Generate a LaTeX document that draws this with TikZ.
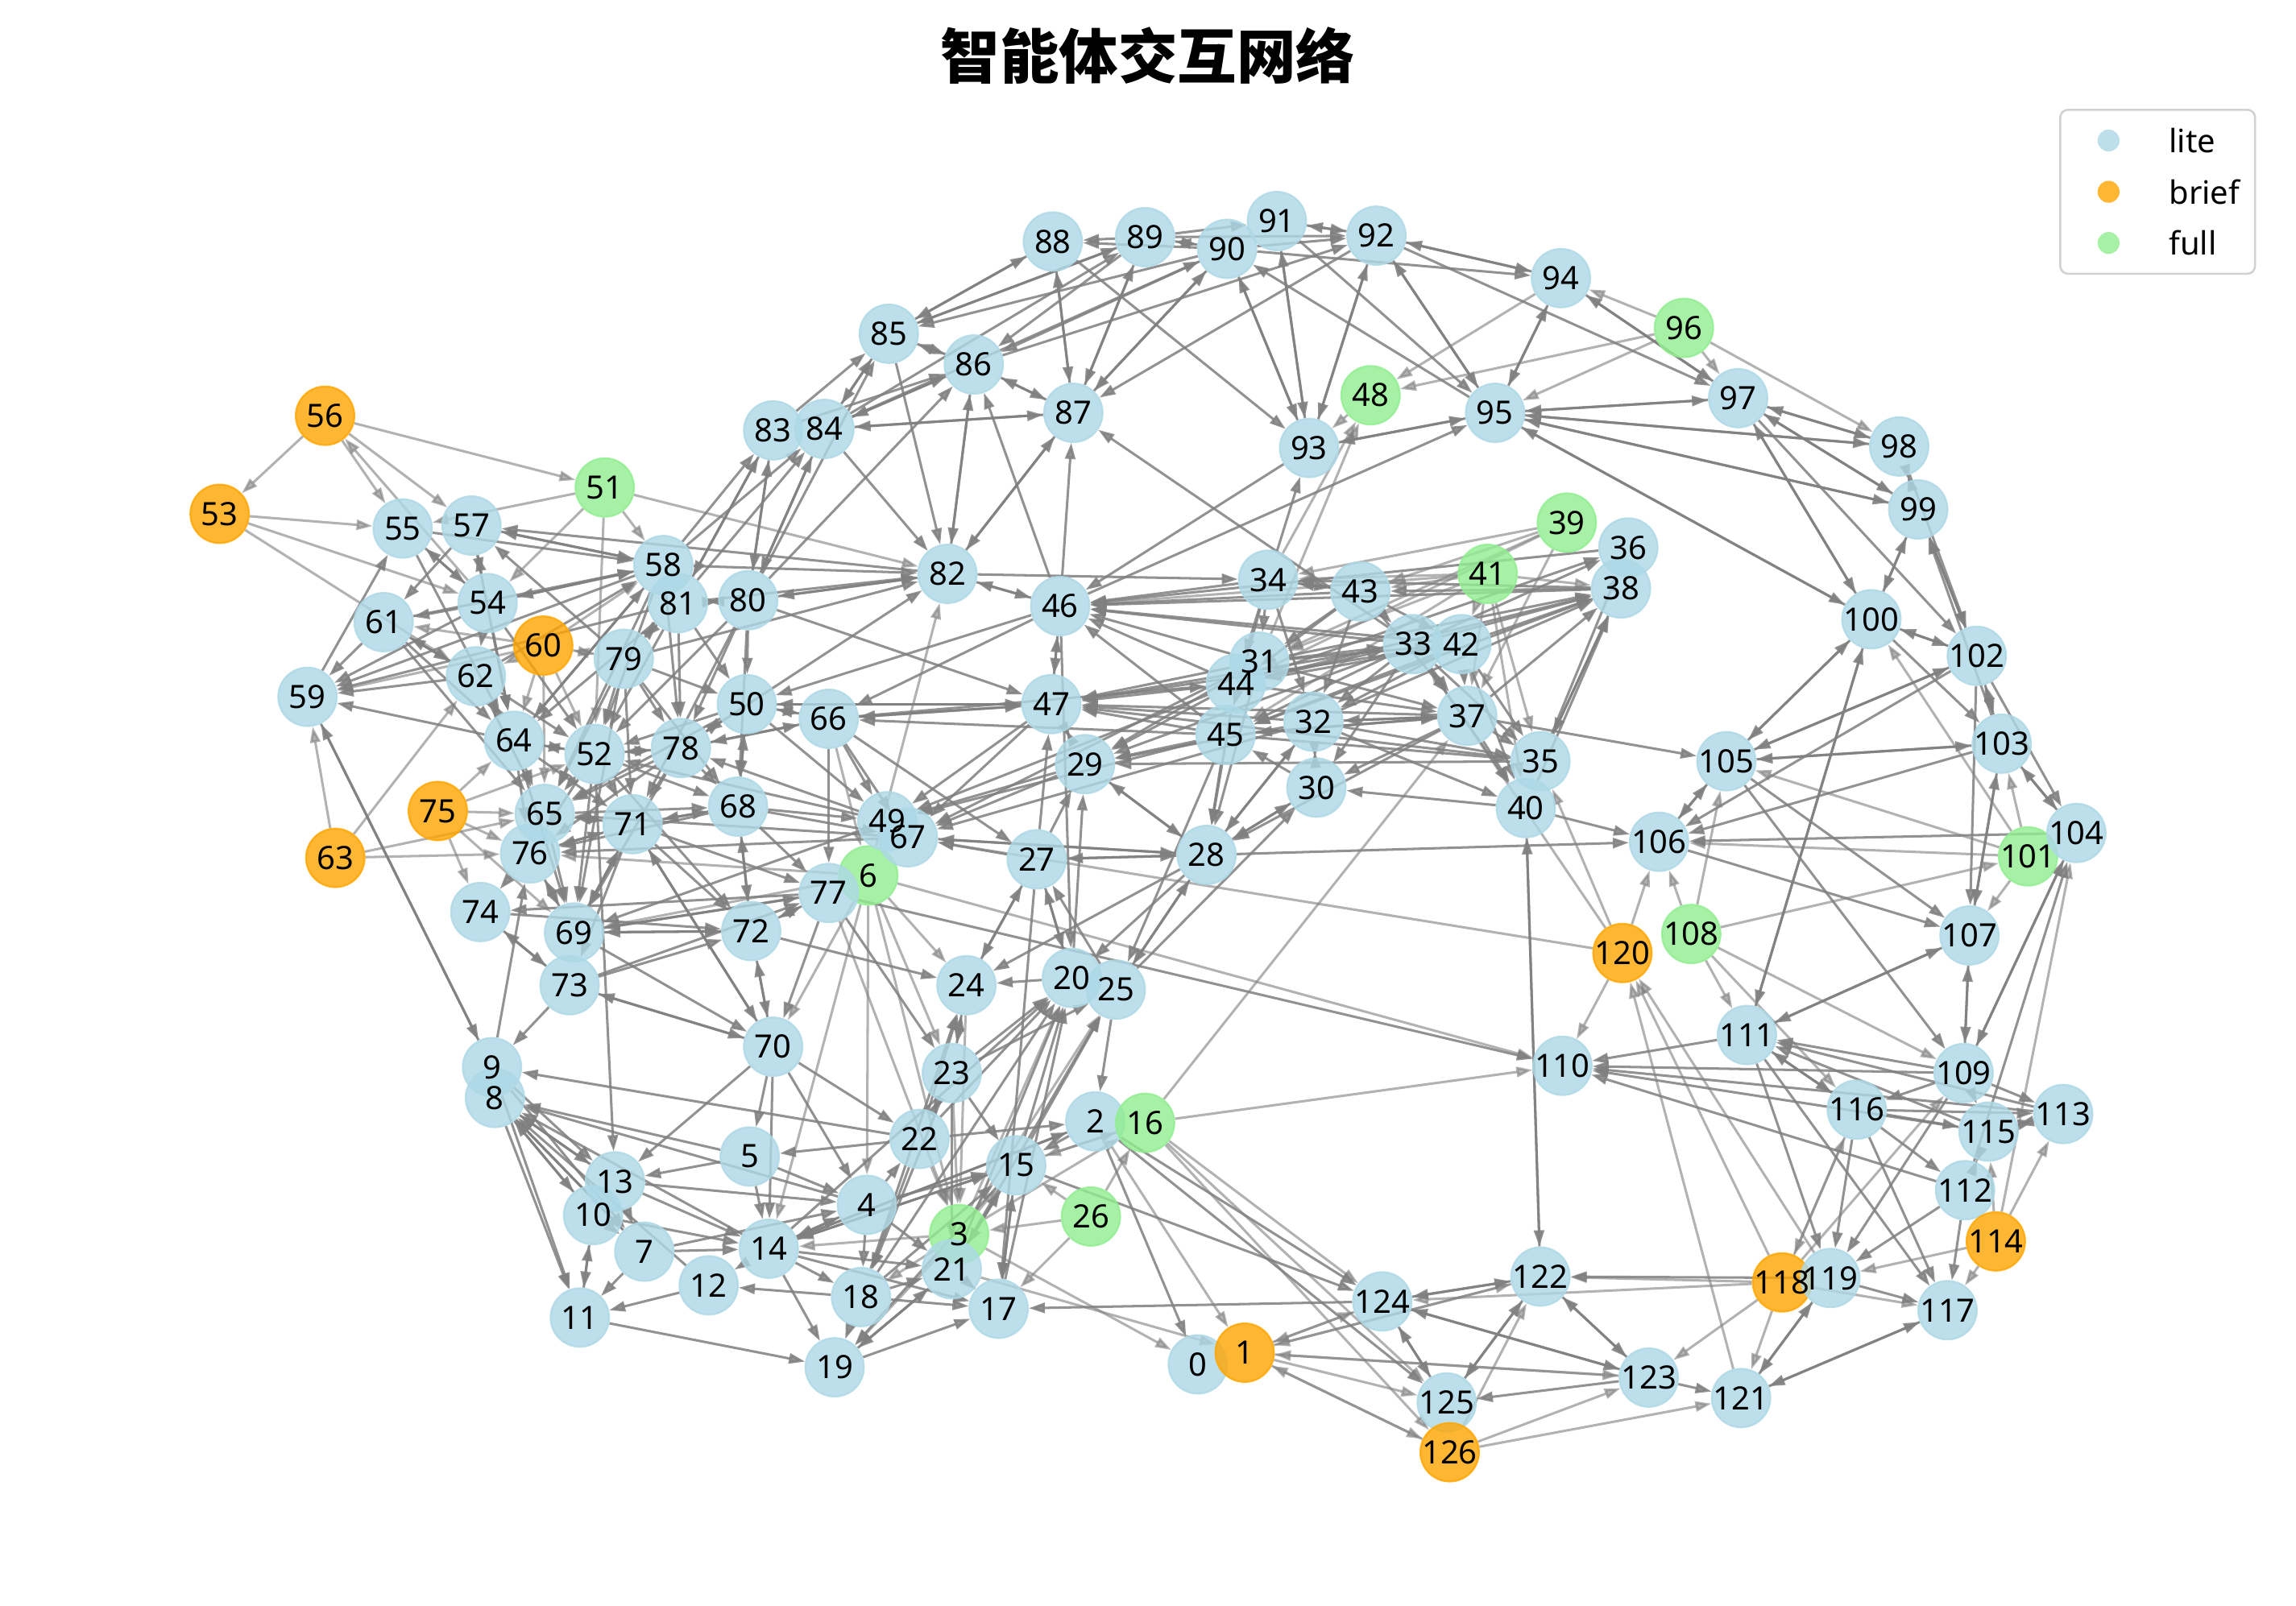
\documentclass[tikz,border=0pt]{standalone}
\usepackage{fontspec}
\setmainfont{Noto Sans}
\newfontfamily\cjkfont{Noto Sans CJK SC}
\usetikzlibrary{arrows.meta,backgrounds}
\pgfdeclarelayer{bottom}
\pgfsetlayers{bottom,background,main}
\definecolor{litec}{RGB}{173,216,230}
\definecolor{briefc}{RGB}{255,165,0}
\definecolor{fullc}{RGB}{144,238,144}
\definecolor{edgec}{RGB}{128,128,128}
\def\nodelist{0/818/932/lite,1/850/924/brief,2/748/766/lite,3/655/843/full,4/592/823/lite,5/512/790/lite,6/593/598/full,7/440/855/lite,8/338/750/lite,9/336/729/lite,10/405/830/lite,11/396/900/lite,12/484/878/lite,13/420/807/lite,14/525/853/lite,15/694/796/lite,16/782/767/full,17/682/894/lite,18/588/886/lite,19/570/934/lite,20/732/668/lite,21/650/867/lite,22/628/778/lite,23/650/733/lite,24/660/673/lite,25/762/676/lite,26/745/831/full,27/708/587/lite,28/824/584/lite,29/741/522/lite,30/899/538/lite,31/860/452/lite,32/897/493/lite,33/965/440/lite,34/866/396/lite,35/1052/520/lite,36/1112/374/lite,37/1002/489/lite,38/1107/402/lite,39/1070/357/full,40/1042/552/lite,41/1016/392/full,42/998/440/lite,43/929/404/lite,44/844/467/lite,45/837/502/lite,46/724/414/lite,47/718/481/lite,48/936/270/full,49/606/561/lite,50/510/481/lite,51/413/333/full,52/406/515/lite,53/150/351/brief,54/333/412/lite,55/275/361/lite,56/222/284/brief,57/322/359/lite,58/453/386/lite,59/210/476/lite,60/371/441/brief,61/262/425/lite,62/325/462/lite,63/229/586/brief,64/351/506/lite,65/372/556/lite,66/566/491/lite,67/620/572/lite,68/504/551/lite,69/392/637/lite,70/528/715/lite,71/432/563/lite,72/513/636/lite,73/389/673/lite,74/328/623/lite,75/299/554/brief,76/362/583/lite,77/566/610/lite,78/465/511/lite,79/426/450/lite,80/511/410/lite,81/463/412/lite,82/647/392/lite,83/528/294/lite,84/563/293/lite,85/607/228/lite,86/665/249/lite,87/733/282/lite,88/719/165/lite,89/782/162/lite,90/838/170/lite,91/872/151/lite,92/940/161/lite,93/894/306/lite,94/1066/190/lite,95/1021/282/lite,96/1150/224/full,97/1187/272/lite,98/1297/305/lite,99/1310/348/lite,100/1278/423/lite,101/1385/585/full,102/1350/448/lite,103/1367/508/lite,104/1418/569/lite,105/1179/520/lite,106/1133/575/lite,107/1345/639/lite,108/1155/638/full,109/1341/733/lite,110/1067/728/lite,111/1193/707/lite,112/1342/813/lite,113/1409/761/lite,114/1363/848/brief,115/1358/773/lite,116/1268/758/lite,117/1330/895/lite,118/1217/876/brief,119/1250/873/lite,120/1108/651/brief,121/1189/955/lite,122/1052/872/lite,123/1126/941/lite,124/944/889/lite,125/988/958/lite,126/990/992/brief}
\begin{document}
\begin{tikzpicture}[x=0.02cm,y=-0.02cm,
  nd/.style={circle,minimum size=0.8cm,inner sep=0pt,fill opacity=0.8,draw opacity=0.8,line width=0.7pt},
  lite/.style={nd,fill=litec,draw=litec},
  brief/.style={nd,fill=briefc,draw=briefc},
  full/.style={nd,fill=fullc,draw=fullc},
  lbl/.style={inner sep=0pt,font=\fontsize{12.5}{13}\selectfont},
  ed/.style={draw=edgec,opacity=0.85,line width=0.95pt,-{Triangle[length=0.22cm,width=0.14cm]}},
  edl/.style={draw=edgec,opacity=0.6,line width=0.95pt,-{Triangle[length=0.22cm,width=0.14cm]}},
  legm/.style={circle,minimum size=0.3cm,inner sep=0pt,fill opacity=0.8,draw=none},
  legt/.style={anchor=west,inner sep=0pt,font=\fontsize{12.5}{13}\selectfont}]
\useasboundingbox (0,0) rectangle (1568,1097);
\begin{pgfonlayer}{bottom}
\fill[white] (0,0) rectangle (1568,1097);
\end{pgfonlayer}
% nodes
\foreach \i/\x/\y/\s in \nodelist { \node[\s] (n\i) at (\x,\y) {}; }
\foreach \i/\x/\y/\s in \nodelist { \node[lbl] (t\i) at (\x,\y) {\i}; }
% edges
\begin{pgfonlayer}{background}
\foreach \a/\b in {85/88,88/85,89/85,90/85,84/85,85/84,83/85,84/86,86/84,83/86,85/86,86/85,86/87,87/86,84/87,87/84,88/87,87/88,87/89,89/87,90/87,92/87,85/82,86/82,82/86,87/82,82/87,84/82,46/86,46/87,33/87,90/86,89/86,89/88,90/88,90/89,89/90,89/91,90/92,91/92,89/92,92/91,90/94,92/94,94/92,97/94,92/97,90/93,91/93,92/93,93/90,93/91,93/92,95/90,91/95,92/95,95/92,94/95,95/94,97/95,98/95,99/95,95/100,100/95,93/95,95/93,34/93,93/46,46/95,88/93,84/90,84/89,85/89,86/92,87/90,80/83,80/84,81/83,81/84,58/83,58/84,83/81,84/80,83/80,80/86,80/85,58/82,81/82,80/82,82/80,82/57,82/46,46/82,82/34,78/82,79/82}
  { \draw[ed] (n\a) -- (n\b); }
\foreach \a/\b in {94/97,95/97,97/98,98/97,95/98,97/99,99/97,95/99,98/99,99/98,97/100,100/97,99/100,100/99,97/102,100/102,102/100,99/102,102/99,103/99,100/105,105/100,111/100,100/111,102/105,102/106,105/102,102/103,103/102,102/104,102/107,100/103,103/105,105/103,103/106,103/104,104/103,103/107,107/103,104/106,105/106,106/105,105/107,105/109,106/107,107/111,111/107,107/109,109/107,104/109,109/104,112/104,37/105,28/106,40/106,98/102}
  { \draw[ed] (n\a) -- (n\b); }
\foreach \a/\b in {111/116,116/111,109/111,113/111,115/111,111/110,113/110,115/110,109/110,112/110,116/115,116/113,116/112,116/117,116/119,109/113,109/115,109/116,109/119,112/115,115/112,112/117,112/119,115/113,113/115,111/117,119/117,117/121,121/117,119/121,121/119,111/119,40/122,122/40,124/122,122/124,124/125,125/124,124/123,123/124,125/122,122/125,122/123,123/122,123/125,123/121,119/122,2/124,2/125,15/124,2/0,124/17}
  { \draw[ed] (n\a) -- (n\b); }
\foreach \a/\b in {43/34,38/34,34/31,34/44,34/45,34/32,43/31,43/44,43/32,43/33,43/37,43/42,38/43,38/45,33/38,42/38,37/38,35/38,38/35,31/38,32/38,44/38,33/36,44/36,36/46,33/37,33/35,33/40,33/32,33/45,33/47,33/29,33/30,42/37,42/35,42/40,42/32,42/45,42/47,42/44,37/35,37/40,37/47,37/30,37/45,37/32,37/28,32/35,32/40,32/37,31/37,31/33,31/42,44/33,44/37,45/37,45/35,30/32,32/30,30/28,28/30,30/45,40/30,45/29,44/29,31/29,32/29,45/28,44/28,31/28,32/28,28/32,45/49,44/49,31/67,32/67,45/47,44/47,31/47,32/47,44/46,31/46,45/46,33/46,42/46,34/46,43/46,38/46,35/47,35/29,40/38,35/36,34/43,45/66,66/44}
  { \draw[ed] (n\a) -- (n\b); }
\foreach \a/\b in {27/28,28/27,27/29,27/24,24/27,27/20,20/27,25/27,27/47,27/17,29/47,47/29,29/49,29/67,28/29,29/28,20/29,47/49,47/67,46/47,47/46,47/66,66/47,50/47,47/50,46/50,46/66,46/20,20/24,23/24,24/23,28/24,18/24,22/24,23/20,15/20,22/20,21/20,14/20,18/20,28/20,17/20,25/2,15/25,23/25,21/25,28/25,25/28,45/25,25/30,23/22,22/23,23/15,23/18,23/21,70/22,22/5,22/18,22/2,2/15,14/2,15/14,2/14,14/15,4/15,18/15,15/17,17/15,15/21,21/15,18/17,19/17,14/17,21/17,14/18,4/18,18/21,18/12,14/19,11/19,19/21,21/19,18/19,15/19,14/21,4/21,5/4,70/4,4/14,14/4,7/4,4/22,5/14,70/14,13/14,10/14,14/12,70/5,5/8,12/11,13/7,70/13,8/10,10/11,11/10,8/7,9/7,7/11,7/14,8/13,9/13,13/8,10/8,7/8,14/8,8/11,9/11,22/9,4/8,5/13,12/8,13/4,10/7,80/47}
  { \draw[ed] (n\a) -- (n\b); }
\foreach \a/\b in {54/55,55/54,57/54,54/57,55/58,57/58,58/57,57/61,54/61,54/58,58/54,59/55,79/57,62/58,64/58,61/58,61/59,62/59,54/59,58/59,81/59,64/59,59/9,9/59,61/62,62/61,61/64,62/64,64/62,62/65,64/52,52/64,64/65,64/76,64/69,52/65,52/76,71/65,71/76,78/65,78/76,68/76,69/76,76/69,65/69,76/74,74/73,73/74,74/72,77/74,73/9,9/76,52/13,79/50,79/81,81/79,79/52,79/78,79/68,79/71,79/69,79/65,81/78,81/52,81/50,80/50,80/78,80/81,81/80,58/52,58/78,58/64,58/65,78/50,50/78,78/52,52/78,78/68,78/71,78/69,78/66,66/78,50/66,66/50,50/68,68/50,50/49,66/49,66/67,66/27,66/77,68/71,71/68,68/72,72/68,68/77,68/67,68/49,71/72,71/77,71/69,71/73,71/70,70/71,72/70,70/72,69/70,73/70,70/73,77/70,72/77,77/72,69/72,72/69,69/77,77/69,73/77,73/72,69/71,52/71,52/69,52/68,52/72,64/71,65/71,65/68,76/71,49/69,49/52,49/78,67/65,67/76,27/67,28/67,67/28,72/24,77/110,62/52,61/65,54/62,54/64,54/52,55/64,57/64,81/64,80/52,80/71,80/68,50/52,50/65,77/23}
  { \draw[ed] (n\a) -- (n\b); }
\foreach \a/\b in {56/53,56/51,56/55,56/57,54/56,53/55,53/54,53/62,51/55,51/54,51/52,51/58,51/82,60/58,60/59,63/59,60/61,60/62,60/64,60/65,60/52,79/60,60/79,63/62,63/65,63/76,75/64,75/65,75/52,75/74,75/69,75/76,94/48,96/48,96/95,96/94,96/97,96/98,48/93,34/48,31/48,39/34,39/43,39/37,39/31,39/44,41/43,41/38,41/42,41/34,41/37,41/35,41/40,41/31,41/45,41/46,120/67,6/110,120/110,120/35,120/33,120/106,118/120,121/120,119/120,101/103,101/105,101/106,101/107,101/100,108/101,108/105,108/106,108/111,108/109,108/116,114/104,114/117,114/113,114/119,114/115,118/116,118/109,118/123,118/121,118/122,118/117,118/124,116/118,126/122,126/123,126/121,1/124,124/1,122/1,1/122,1/123,123/1,1/125,1/126,126/1,2/1,3/0,21/1,16/126,16/125,16/124,26/16,26/15,26/3,26/17,16/15,15/16,3/16,16/37,16/110,6/82,6/4,6/24,6/23,6/70,6/76,6/69,66/6,6/3,77/3,23/3,22/3,3/18,3/19,3/14,3/15,3/20,3/25,24/3,6/14}
  { \draw[edl] (n\a) -- (n\b); }
\end{pgfonlayer}
% title
\node (title) at (784,38) {\cjkfont\bfseries\fontsize{23}{24}\selectfont 智能体交互网络};
% legend
\draw[draw=black!18,line width=0.8pt,rounded corners=3pt,fill=white,fill opacity=0.8] (1407,75) rectangle (1540,187);
\node[legm,fill=litec] (lg1) at (1440,96) {};
\node[legm,fill=briefc] (lg2) at (1440,131) {};
\node[legm,fill=fullc] (lg3) at (1440,166) {};
\node[legt] (lt1) at (1481,96) {lite};
\node[legt] (lt2) at (1481,131) {brief};
\node[legt] (lt3) at (1481,166) {full};
\end{tikzpicture}
\end{document}
